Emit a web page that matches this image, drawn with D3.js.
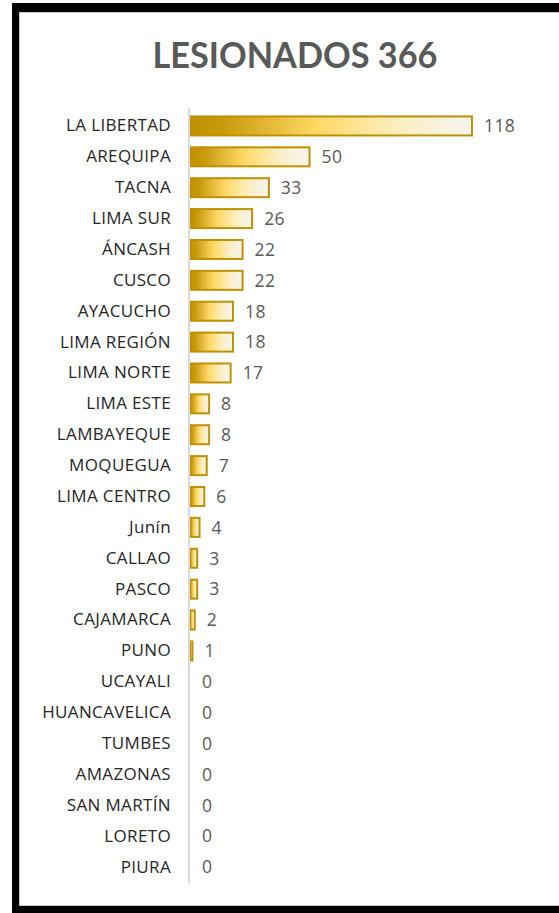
<!DOCTYPE html>
<html>
<head>
<meta charset="utf-8">
<script src="https://cdn.jsdelivr.net/npm/d3@7"></script>
<style>
  body { margin: 0; background: #fff; }
  svg { display: block; }
</style>
</head>
<body>
<div id="chart"></div>
<script>
// datos
let categorias = ["LA LIBERTAD", "AREQUIPA", "TACNA", "LIMA SUR", "ÁNCASH", "CUSCO", "AYACUCHO",
  "LIMA REGIÓN", "LIMA NORTE", "LIMA ESTE", "LAMBAYEQUE", "MOQUEGUA", "LIMA CENTRO", "Junín",
  "CALLAO", "PASCO", "CAJAMARCA", "PUNO", "UCAYALI", "HUANCAVELICA", "TUMBES", "AMAZONAS",
  "SAN MARTÍN", "LORETO", "PIURA"]
let valores = [118, 50, 33, 26, 22, 22, 18, 18, 17, 8, 8, 7, 6, 4, 3, 3, 2, 1, 0, 0, 0, 0, 0, 0, 0]
let titulo = "LESIONADOS 366"

let data = categorias.map(function (c, i) {
  return { name: c, value: valores[i] }
})

let svg = d3.select("#chart")
  .append("svg")
  .attr("width", 559)
  .attr("height", 913)

// marco negro
svg.append("rect")
  .attr("x", 12).attr("y", 3)
  .attr("width", 547).attr("height", 910)
  .attr("fill", "#000")
svg.append("rect")
  .attr("x", 19.5).attr("y", 12.5)
  .attr("width", 545).attr("height", 893)
  .attr("fill", "#fff")
  .attr("stroke", "#c8c8c8")
  .attr("stroke-width", 1)

// degradado de las barras
let defs = svg.append("defs")
let grad = defs.append("linearGradient")
  .attr("id", "oro")
  .attr("x1", "0%").attr("x2", "100%")
  .attr("y1", "0%").attr("y2", "0%")
grad.append("stop").attr("offset", "0%").attr("stop-color", "#bf9000")
grad.append("stop").attr("offset", "12%").attr("stop-color", "#c99a0c")
grad.append("stop").attr("offset", "45%").attr("stop-color", "#ffd966")
grad.append("stop").attr("offset", "75%").attr("stop-color", "#fcefc4")
grad.append("stop").attr("offset", "100%").attr("stop-color", "#f4f4f2")

// escalas
let xscale = d3.scaleLinear()
  .domain([0, d3.max(valores)])
  .range([190, 472])
let yscale = d3.scaleBand()
  .domain(categorias)
  .range([110.5, 882.5])
  .paddingInner(0.32)
  .paddingOuter(0.16)

// titulo
svg.append("text")
  .attr("x", 295)
  .attr("y", 68)
  .attr("text-anchor", "middle")
  .attr("font-family", "Lato, 'Open Sans', sans-serif")
  .attr("font-weight", "bold")
  .attr("font-size", "36px")
  .attr("textLength", 285)
  .attr("lengthAdjust", "spacingAndGlyphs")
  .attr("fill", "#595959")
  .text(titulo)

// barras
svg.selectAll(".bar")
  .data(data)
  .enter()
  .append("rect")
  .attr("class", "bar")
  .attr("x", xscale(0))
  .attr("y", function (d) { return yscale(d.name) + 1 })
  .attr("width", function (d) { return Math.max(0, xscale(d.value) - xscale(0)) })
  .attr("height", yscale.bandwidth() - 2)
  .attr("fill", "url(#oro)")
  .attr("stroke", function (d) { return d.value > 0 ? "#bf9000" : "none" })
  .attr("stroke-width", 2)

// eje Y
let gy = svg.append("g")
  .attr("transform", "translate(189,0)")
  .call(d3.axisLeft(yscale).tickSize(0).tickPadding(18))
gy.select(".domain")
  .attr("stroke", "#d9d9d9")
  .attr("stroke-width", 2)
  .attr("d", "M0,108V883")
gy.selectAll("text")
  .attr("font-family", "'Open Sans', sans-serif")
  .attr("font-size", "17px")
  .attr("letter-spacing", "0.35px")
  .attr("fill", "#262626")

// etiquetas de valor
svg.selectAll(".val")
  .data(data)
  .enter()
  .append("text")
  .attr("class", "val")
  .attr("x", function (d) { return xscale(d.value) + 12 })
  .attr("y", function (d) { return yscale(d.name) + yscale.bandwidth() / 2 })
  .attr("dy", "0.36em")
  .attr("font-family", "'Open Sans', sans-serif")
  .attr("font-size", "17.5px")
  .attr("letter-spacing", "0.4px")
  .attr("fill", "#595959")
  .text(function (d) { return d.value })
</script>
</body>
</html>
